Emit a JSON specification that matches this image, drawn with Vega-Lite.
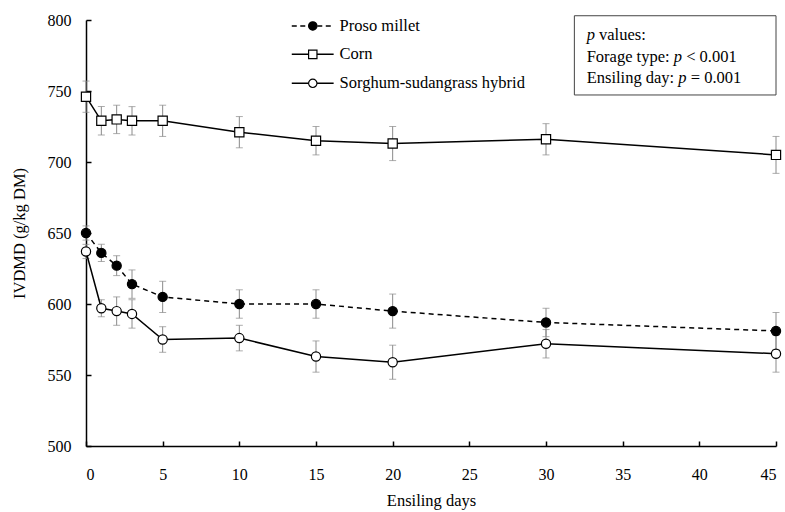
{
  "$schema": "https://vega.github.io/schema/vega-lite/v6.json",
  "width": 690,
  "height": 426,
  "autosize": {"type": "none"},
  "padding": {"left": 86, "top": 20, "right": 9, "bottom": 66},
  "background": "white",
  "config": {
    "view": {"stroke": null},
    "font": "Liberation Serif",
    "axis": {
      "grid": false,
      "domainColor": "black",
      "domainWidth": 1.5,
      "tickColor": "black",
      "tickWidth": 1.5,
      "tickSize": -5,
      "labelFont": "Liberation Serif",
      "labelFontSize": 16,
      "labelColor": "black",
      "titleFont": "Liberation Serif",
      "titleFontSize": 16.5,
      "titleFontWeight": "normal",
      "titleColor": "black"
    }
  },
  "data": {
    "values": [
      {"series": "Proso millet", "day": 0, "ivdmd": 650, "se": 5},
      {"series": "Proso millet", "day": 1, "ivdmd": 636, "se": 6},
      {"series": "Proso millet", "day": 2, "ivdmd": 627, "se": 7},
      {"series": "Proso millet", "day": 3, "ivdmd": 614, "se": 10},
      {"series": "Proso millet", "day": 5, "ivdmd": 605, "se": 11},
      {"series": "Proso millet", "day": 10, "ivdmd": 600, "se": 10},
      {"series": "Proso millet", "day": 15, "ivdmd": 600, "se": 10},
      {"series": "Proso millet", "day": 20, "ivdmd": 595, "se": 12},
      {"series": "Proso millet", "day": 30, "ivdmd": 587, "se": 10},
      {"series": "Proso millet", "day": 45, "ivdmd": 581, "se": 13},
      {"series": "Corn", "day": 0, "ivdmd": 746, "se": 11},
      {"series": "Corn", "day": 1, "ivdmd": 729, "se": 10},
      {"series": "Corn", "day": 2, "ivdmd": 730, "se": 10},
      {"series": "Corn", "day": 3, "ivdmd": 729, "se": 10},
      {"series": "Corn", "day": 5, "ivdmd": 729, "se": 11},
      {"series": "Corn", "day": 10, "ivdmd": 721, "se": 11},
      {"series": "Corn", "day": 15, "ivdmd": 715, "se": 10},
      {"series": "Corn", "day": 20, "ivdmd": 713, "se": 12},
      {"series": "Corn", "day": 30, "ivdmd": 716, "se": 11},
      {"series": "Corn", "day": 45, "ivdmd": 705, "se": 13},
      {"series": "Sorghum-sudangrass hybrid", "day": 0, "ivdmd": 637, "se": 5},
      {"series": "Sorghum-sudangrass hybrid", "day": 1, "ivdmd": 597, "se": 6},
      {"series": "Sorghum-sudangrass hybrid", "day": 2, "ivdmd": 595, "se": 10},
      {"series": "Sorghum-sudangrass hybrid", "day": 3, "ivdmd": 593, "se": 10},
      {"series": "Sorghum-sudangrass hybrid", "day": 5, "ivdmd": 575, "se": 9},
      {"series": "Sorghum-sudangrass hybrid", "day": 10, "ivdmd": 576, "se": 9},
      {"series": "Sorghum-sudangrass hybrid", "day": 15, "ivdmd": 563, "se": 11},
      {"series": "Sorghum-sudangrass hybrid", "day": 20, "ivdmd": 559, "se": 12},
      {"series": "Sorghum-sudangrass hybrid", "day": 30, "ivdmd": 572, "se": 10},
      {"series": "Sorghum-sudangrass hybrid", "day": 45, "ivdmd": 565, "se": 13}
    ]
  },
  "layer": [
    {
      "mark": {"type": "errorbar", "ticks": {"size": 7, "color": "#8a8a8a", "strokeWidth": 1}, "rule": {"color": "#8a8a8a", "strokeWidth": 1}},
      "encoding": {
        "x": {"field": "day", "type": "quantitative", "scale": {"domain": [0, 45], "nice": false}, "axis": {"values": [0, 5, 10, 15, 20, 25, 30, 35, 40, 45], "labelPadding": 25, "titlePadding": 10}, "title": "Ensiling days"},
        "y": {"field": "ivdmd", "type": "quantitative", "scale": {"domain": [500, 800], "nice": false, "zero": false}, "axis": {"values": [500, 550, 600, 650, 700, 750, 800], "labelPadding": 20, "titlePadding": 20}, "title": "IVDMD (g/kg DM)"},
        "yError": {"field": "se"}
      }
    },
    {
      "transform": [{"filter": "datum.series === 'Proso millet'"}],
      "mark": {"type": "line", "color": "black", "strokeWidth": 1.5, "strokeDash": [5, 4]},
      "encoding": {
        "x": {"field": "day", "type": "quantitative"},
        "y": {"field": "ivdmd", "type": "quantitative"}
      }
    },
    {
      "transform": [{"filter": "datum.series !== 'Proso millet'"}],
      "mark": {"type": "line", "color": "black", "strokeWidth": 1.5},
      "encoding": {
        "x": {"field": "day", "type": "quantitative"},
        "y": {"field": "ivdmd", "type": "quantitative"},
        "detail": {"field": "series", "type": "nominal"}
      }
    },
    {
      "mark": {"type": "point", "filled": true, "stroke": "black", "strokeWidth": 1.2, "size": 85, "opacity": 1},
      "encoding": {
        "x": {"field": "day", "type": "quantitative"},
        "y": {"field": "ivdmd", "type": "quantitative"},
        "fill": {"condition": {"test": "datum.series === 'Proso millet'", "value": "black"}, "value": "white"},
        "shape": {
          "field": "series", "type": "nominal",
          "scale": {"domain": ["Proso millet", "Corn", "Sorghum-sudangrass hybrid"], "range": ["circle", "square", "circle"]},
          "legend": null
        }
      }
    },
    {
      "data": {"values": [{}]},
      "mark": {"type": "rule", "color": "black", "strokeWidth": 1.5, "strokeDash": [5, 3.5]},
      "encoding": {"x": {"datum": 13.42, "type": "quantitative"}, "x2": {"datum": 16.15}, "y": {"datum": 795.8, "type": "quantitative"}}
    },
    {
      "data": {"values": [{}]},
      "mark": {"type": "point", "shape": "circle", "filled": true, "fill": "black", "stroke": "black", "strokeWidth": 1.2, "size": 70, "opacity": 1},
      "encoding": {"x": {"datum": 14.79, "type": "quantitative"}, "y": {"datum": 795.8, "type": "quantitative"}}
    },
    {
      "data": {"values": [{}]},
      "mark": {"type": "text", "text": "Proso millet", "align": "left", "baseline": "middle", "fontSize": 16.5, "fill": "black"},
      "encoding": {"x": {"datum": 16.54, "type": "quantitative"}, "y": {"datum": 795.8, "type": "quantitative"}}
    },
    {
      "data": {"values": [{}]},
      "mark": {"type": "rule", "color": "black", "strokeWidth": 1.5},
      "encoding": {"x": {"datum": 13.42, "type": "quantitative"}, "x2": {"datum": 16.15}, "y": {"datum": 775.8, "type": "quantitative"}}
    },
    {
      "data": {"values": [{}]},
      "mark": {"type": "point", "shape": "square", "filled": true, "fill": "white", "stroke": "black", "strokeWidth": 1.2, "size": 70, "opacity": 1},
      "encoding": {"x": {"datum": 14.79, "type": "quantitative"}, "y": {"datum": 775.8, "type": "quantitative"}}
    },
    {
      "data": {"values": [{}]},
      "mark": {"type": "text", "text": "Corn", "align": "left", "baseline": "middle", "fontSize": 16.5, "fill": "black"},
      "encoding": {"x": {"datum": 16.54, "type": "quantitative"}, "y": {"datum": 775.8, "type": "quantitative"}}
    },
    {
      "data": {"values": [{}]},
      "mark": {"type": "rule", "color": "black", "strokeWidth": 1.5},
      "encoding": {"x": {"datum": 13.42, "type": "quantitative"}, "x2": {"datum": 16.15}, "y": {"datum": 755.4, "type": "quantitative"}}
    },
    {
      "data": {"values": [{}]},
      "mark": {"type": "point", "shape": "circle", "filled": true, "fill": "white", "stroke": "black", "strokeWidth": 1.2, "size": 70, "opacity": 1},
      "encoding": {"x": {"datum": 14.79, "type": "quantitative"}, "y": {"datum": 755.4, "type": "quantitative"}}
    },
    {
      "data": {"values": [{}]},
      "mark": {"type": "text", "text": "Sorghum-sudangrass hybrid", "align": "left", "baseline": "middle", "fontSize": 16.5, "fill": "black"},
      "encoding": {"x": {"datum": 16.54, "type": "quantitative"}, "y": {"datum": 755.4, "type": "quantitative"}}
    },
    {
      "data": {"values": [{}]},
      "mark": {"type": "rect", "fill": "white", "stroke": "#444444", "strokeWidth": 1},
      "encoding": {
        "x": {"datum": 31.85, "type": "quantitative"},
        "x2": {"datum": 45},
        "y": {"datum": 803, "type": "quantitative"},
        "y2": {"datum": 747.2}
      }
    },
    {
      "data": {"values": [{}]},
      "mark": {"type": "text", "text": "p", "fontStyle": "italic", "align": "left", "baseline": "middle", "fontSize": 16.5, "fill": "black"},
      "encoding": {"x": {"datum": 32.65, "type": "quantitative"}, "y": {"datum": 789.4, "type": "quantitative"}}
    },
    {
      "data": {"values": [{}]},
      "mark": {"type": "text", "text": "values:", "align": "left", "baseline": "middle", "fontSize": 16.5, "fill": "black", "dx": 12.4},
      "encoding": {"x": {"datum": 32.65, "type": "quantitative"}, "y": {"datum": 789.4, "type": "quantitative"}}
    },
    {
      "data": {"values": [{}]},
      "mark": {"type": "text", "text": "Forage type:", "align": "left", "baseline": "middle", "fontSize": 16.5, "fill": "black"},
      "encoding": {"x": {"datum": 32.65, "type": "quantitative"}, "y": {"datum": 773.9, "type": "quantitative"}}
    },
    {
      "data": {"values": [{}]},
      "mark": {"type": "text", "text": "p", "fontStyle": "italic", "align": "left", "baseline": "middle", "fontSize": 16.5, "fill": "black", "dx": 87.1},
      "encoding": {"x": {"datum": 32.65, "type": "quantitative"}, "y": {"datum": 773.9, "type": "quantitative"}}
    },
    {
      "data": {"values": [{}]},
      "mark": {"type": "text", "text": "< 0.001", "align": "left", "baseline": "middle", "fontSize": 16.5, "fill": "black", "dx": 99.5},
      "encoding": {"x": {"datum": 32.65, "type": "quantitative"}, "y": {"datum": 773.9, "type": "quantitative"}}
    },
    {
      "data": {"values": [{}]},
      "mark": {"type": "text", "text": "Ensiling day:", "align": "left", "baseline": "middle", "fontSize": 16.5, "fill": "black"},
      "encoding": {"x": {"datum": 32.65, "type": "quantitative"}, "y": {"datum": 759.2, "type": "quantitative"}}
    },
    {
      "data": {"values": [{}]},
      "mark": {"type": "text", "text": "p", "fontStyle": "italic", "align": "left", "baseline": "middle", "fontSize": 16.5, "fill": "black", "dx": 91.7},
      "encoding": {"x": {"datum": 32.65, "type": "quantitative"}, "y": {"datum": 759.2, "type": "quantitative"}}
    },
    {
      "data": {"values": [{}]},
      "mark": {"type": "text", "text": "= 0.001", "align": "left", "baseline": "middle", "fontSize": 16.5, "fill": "black", "dx": 104.1},
      "encoding": {"x": {"datum": 32.65, "type": "quantitative"}, "y": {"datum": 759.2, "type": "quantitative"}}
    }
  ]
}
